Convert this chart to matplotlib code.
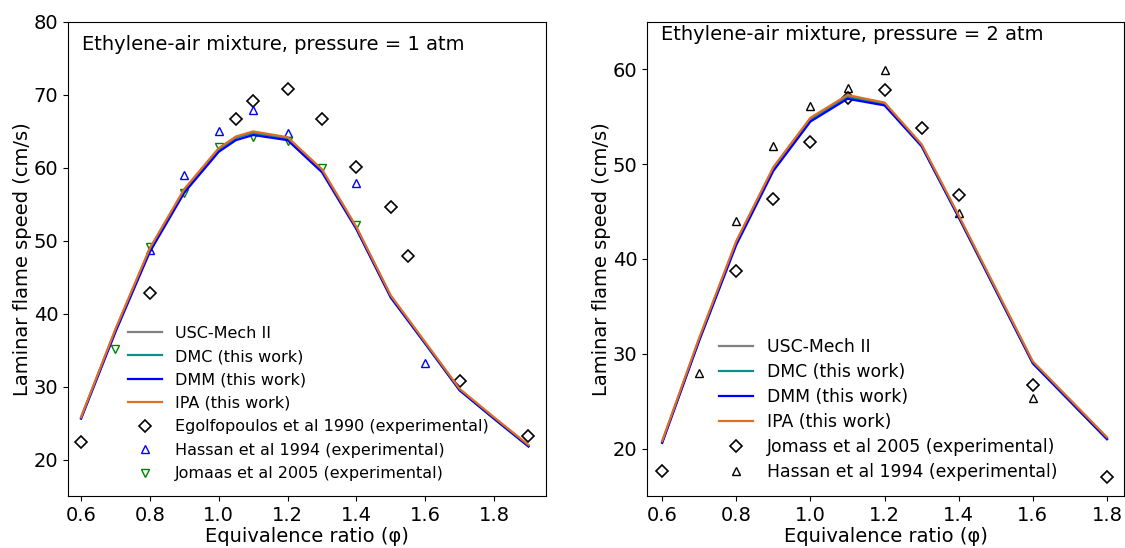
import matplotlib
matplotlib.use("Agg")
import matplotlib.pyplot as plt

# ---- Left panel: 1 atm ----
phi1 = [0.6, 0.7, 0.8, 0.9, 1.0, 1.05, 1.1, 1.2, 1.3, 1.4, 1.5, 1.6, 1.7, 1.8, 1.9]
usc1 = [25.8, 37.8, 48.9, 57.0, 62.6, 64.2, 64.9, 64.1, 59.7, 51.8, 42.4, 36.0, 29.6, 25.7, 21.9]
dmc1 = [25.7, 37.7, 48.8, 56.9, 62.5, 64.1, 64.8, 64.0, 59.6, 51.7, 42.3, 35.9, 29.5, 25.6, 21.8]
dmm1 = [25.6, 37.5, 48.5, 56.6, 62.2, 63.8, 64.5, 63.8, 59.4, 51.6, 42.2, 35.9, 29.5, 25.6, 21.8]
ipa1 = [25.8, 37.9, 49.0, 57.1, 62.7, 64.3, 65.0, 64.2, 59.8, 51.9, 42.5, 36.1, 29.7, 25.8, 22.0]

egol_phi = [0.6, 0.8, 1.05, 1.1, 1.2, 1.3, 1.4, 1.5, 1.55, 1.7, 1.9]
egol_v = [22.4, 42.9, 66.7, 69.2, 70.8, 66.7, 60.1, 54.6, 47.9, 30.8, 23.2]
hass1_phi = [0.8, 0.9, 1.0, 1.1, 1.2, 1.4, 1.6]
hass1_v = [48.8, 59.0, 65.0, 67.9, 64.8, 57.9, 33.2]
jom1_phi = [0.7, 0.8, 0.9, 1.0, 1.1, 1.2, 1.3, 1.4]
jom1_v = [35.2, 49.2, 56.6, 62.8, 64.2, 63.7, 60.0, 52.2]

# ---- Right panel: 2 atm ----
phi2 = [0.6, 0.7, 0.8, 0.9, 1.0, 1.1, 1.2, 1.3, 1.4, 1.5, 1.6, 1.7, 1.8]
usc2 = [20.7, 31.6, 41.8, 49.6, 54.8, 57.2, 56.4, 52.0, 44.5, 36.8, 29.1, 25.1, 21.1]
dmc2 = [20.7, 31.5, 41.7, 49.5, 54.7, 57.1, 56.3, 51.9, 44.4, 36.7, 29.0, 25.0, 21.0]
dmm2 = [20.6, 31.4, 41.5, 49.3, 54.5, 56.9, 56.2, 51.9, 44.4, 36.7, 29.0, 25.0, 21.0]
ipa2 = [20.8, 31.7, 41.9, 49.7, 54.9, 57.3, 56.5, 52.1, 44.6, 36.9, 29.2, 25.2, 21.2]

jom2_phi = [0.6, 0.8, 0.9, 1.0, 1.1, 1.2, 1.3, 1.4, 1.6, 1.8]
jom2_v = [17.6, 38.7, 46.3, 52.3, 57.0, 57.8, 53.8, 46.7, 26.75, 17.0]
hass2_phi = [0.7, 0.8, 0.9, 1.0, 1.1, 1.2, 1.4, 1.6]
hass2_v = [28.0, 44.0, 51.9, 56.1, 58.0, 59.9, 44.9, 25.35]

W, H = 1125, 548
fig = plt.figure(figsize=(W / 100, H / 100), dpi=100)
ax1 = fig.add_axes([68 / W, 1 - 496 / H, (546 - 68) / W, (496 - 22) / H])
ax2 = fig.add_axes([647 / W, 1 - 496 / H, (1124 - 647) / W, (496 - 22) / H])

lw = 1.6
c_usc, c_dmc, c_dmm, c_ipa = "#808080", "#0f8f8a", "#0000ff", "#e07020"

def curves(ax, phi, a, b, c, d):
    ax.plot(phi, a, color=c_usc, lw=lw, label="USC-Mech II", zorder=3)
    ax.plot(phi, b, color=c_dmc, lw=lw, label="DMC (this work)", zorder=3)
    ax.plot(phi, c, color=c_dmm, lw=lw, label="DMM (this work)", zorder=3)
    ax.plot(phi, d, color=c_ipa, lw=lw, label="IPA (this work)", zorder=3)

curves(ax1, phi1, usc1, dmc1, dmm1, ipa1)
ax1.plot(egol_phi, egol_v, ls="none", marker="D", ms=6, mfc="none", mec="black", mew=1.2,
         label="Egolfopoulos et al 1990 (experimental)", zorder=2)
ax1.plot(hass1_phi, hass1_v, ls="none", marker="^", ms=6, mfc="none", mec="blue", mew=1.0,
         label="Hassan et al 1994 (experimental)", zorder=2)
ax1.plot(jom1_phi, jom1_v, ls="none", marker="v", ms=6, mfc="none", mec="green", mew=1.0,
         label="Jomaas et al 2005 (experimental)", zorder=2)

curves(ax2, phi2, usc2, dmc2, dmm2, ipa2)
ax2.plot(jom2_phi, jom2_v, ls="none", marker="D", ms=6, mfc="none", mec="black", mew=1.2,
         label="Jomass et al 2005 (experimental)", zorder=2)
ax2.plot(hass2_phi, hass2_v, ls="none", marker="^", ms=5.5, mfc="none", mec="black", mew=1.0,
         label="Hassan et al 1994 (experimental)", zorder=2)

ax1.set_xlim(0.562, 1.951)
ax1.set_ylim(15, 80)
ax2.set_xlim(0.559, 1.846)
ax2.set_ylim(15, 65)

ax1.set_xticks([0.6, 0.8, 1.0, 1.2, 1.4, 1.6, 1.8])
ax1.set_yticks([20, 30, 40, 50, 60, 70, 80])
ax2.set_xticks([0.6, 0.8, 1.0, 1.2, 1.4, 1.6, 1.8])
ax2.set_yticks([20, 30, 40, 50, 60])

for ax in (ax1, ax2):
    ax.tick_params(labelsize=14)
    ax.set_xlabel("Equivalence ratio (\u03c6)", fontsize=14, labelpad=2)
    ax.set_ylabel("Laminar flame speed (cm/s)", fontsize=14, labelpad=1)

ax1.text(0.03, 0.972, "Ethylene-air mixture, pressure = 1 atm", transform=ax1.transAxes,
         fontsize=14, va="top", ha="left")
ax2.text(0.03, 0.993, "Ethylene-air mixture, pressure = 2 atm", transform=ax2.transAxes,
         fontsize=14, va="top", ha="left")

ax1.legend(loc="lower left", bbox_to_anchor=(0.096, 0.0005), frameon=False, fontsize=11.5,
           labelspacing=0.53, handlelength=2.1)
ax2.legend(loc="lower left", bbox_to_anchor=(0.118, -0.002), frameon=False, fontsize=12.4,
           labelspacing=0.41, handlelength=2.0)

fig.savefig("out.png", dpi=100)
